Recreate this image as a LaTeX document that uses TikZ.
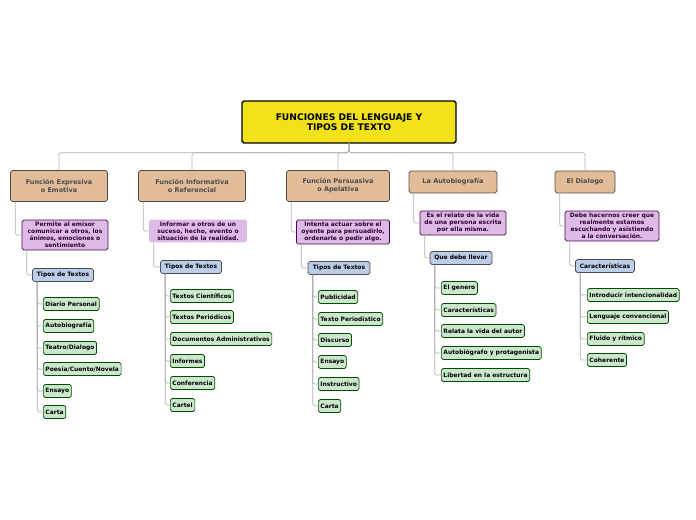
\documentclass[tikz,border=0pt]{standalone}
\usepackage{fontspec}
\setmainfont{DejaVu Sans}
\usetikzlibrary{positioning,calc}
\definecolor{rootyel}{HTML}{F2E21A}
\definecolor{funtan}{HTML}{E2BC98}
\definecolor{descvio}{HTML}{DCBCE6}
\definecolor{tipblue}{HTML}{BCCDE8}
\definecolor{itemgreen}{HTML}{CCE8CC}
\tikzset{
  box/.style={rectangle,rounded corners=1pt,inner sep=1.2pt,align=center,
    font=\fontsize{3.4}{4}\selectfont\bfseries},
  root/.style={box,draw=black,thick,fill=rootyel,minimum width=4.28cm,minimum height=0.84cm,
    font=\fontsize{5.2}{6}\selectfont\bfseries},
  fun/.style={box,draw=black!70,fill=funtan,minimum height=0.44cm,text=black!70,
    font=\fontsize{3.7}{4.6}\selectfont\bfseries},
  desc/.style={box,draw=violet!60!black,fill=descvio,text=violet!40!black},
  tipo/.style={box,draw=black!70,fill=tipblue,minimum height=0.26cm},
  item/.style={box,draw=green!30!black,fill=itemgreen,minimum height=0.26cm,anchor=west},
  link/.style={draw=black!30,line width=0.4pt,rounded corners=1pt}
}
\begin{document}
\begin{tikzpicture}[x=0.02cm,y=-0.02cm]
  \useasboundingbox (0,0) rectangle (696,520);

  \node[root] (root) at (349,122) {FUNCIONES DEL LENGUAJE Y\\TIPOS DE TEXTO};

  % first level
  \node[fun,minimum width=1.94cm,minimum height=0.62cm] (fexp) at (59,186) {Función Expresiva\\o Emotiva};
  \node[fun,minimum width=2.14cm,minimum height=0.62cm] (finf) at (192,186) {Función Informativa\\o Referencial};
  \node[fun,minimum width=2.06cm,minimum height=0.62cm] (fper) at (338,186) {Función Persuasiva\\o Apelativa};
  \node[fun,minimum width=1.76cm] (faut) at (453,182) {La Autobiografía};
  \node[fun,minimum width=1.2cm] (fdia) at (585,182) {El Dialogo};

  \foreach \f in {fexp,finf,fper,faut,fdia}
    \draw[link] (root.south) -- ++(0,9) -| (\f.north);

  % descriptions
  \node[desc,minimum width=1.72cm] (dexp) at (65,235) {Permite al emisor\\comunicar a otros, los\\ánimos, emociones o\\sentimiento};
  \node[desc,draw=none,minimum width=1.96cm] (dinf) at (198,231) {Informar a otros de un\\suceso, hecho, evento o\\situación de la realidad.};
  \node[desc,minimum width=1.86cm] (dper) at (343,232) {Intenta actuar sobre el\\oyente para persuadirlo,\\ordenarle o pedir algo.};
  \node[desc,minimum width=1.72cm] (daut) at (463,223) {Es el relato de la vida\\de una persona escrita\\por ella misma.};
  \node[desc,minimum width=1.88cm] (ddia) at (612,226) {Debe hacernos creer que\\realmente estamos\\escuchando y asistiendo\\a la conversación.};

  % groups
  \node[tipo,minimum width=1.22cm] (texp) at (63,275) {Tipos de Textos};
  \node[tipo,minimum width=1.22cm] (tinf) at (191,267) {Tipos de Textos};
  \node[tipo,minimum width=1.24cm] (tper) at (339,268) {Tipos de Textos};
  \node[tipo,minimum width=1.24cm] (taut) at (461,258) {Que debe llevar};
  \node[tipo,minimum width=1.18cm] (tdia) at (605,266) {Características};

  \foreach \k in {exp,inf,per,aut,dia}{
    \draw[link] ([xshift=0.1cm]f\k.south west) |- (d\k.west);
    \draw[link] ([xshift=0.1cm]d\k.south west) |- (t\k.west);
  }

  % leaves
  \foreach \t [count=\i] in {Diario Personal,Autobiografía,Teatro/Dialogo,Poesía/Cuento/Novela,Ensayo,Carta}{
    \pgfmathsetmacro\yy{{304,326,348,369,391,412}[\i-1]}
    \node[item] (iexp\i) at (43,\yy) {\t};
    \draw[link] ([xshift=0.1cm]texp.south west) |- (iexp\i.west);
  }
  \foreach \t [count=\i] in {Textos Científicos,Textos Periódicos,Documentos Administrativos,Informes,Conferencia,Cartel}{
    \pgfmathsetmacro\yy{{296,317,339,361,383,405}[\i-1]}
    \node[item] (iinf\i) at (170,\yy) {\t};
    \draw[link] ([xshift=0.1cm]tinf.south west) |- (iinf\i.west);
  }
  \foreach \t [count=\i] in {Publicidad,Texto Periodístico,Discurso,Ensayo,Instructivo,Carta}{
    \pgfmathsetmacro\yy{{297,319,340,362,384,406}[\i-1]}
    \node[item] (iper\i) at (318,\yy) {\t};
    \draw[link] ([xshift=0.1cm]tper.south west) |- (iper\i.west);
  }
  \foreach \t [count=\i] in {El genero,Características,Relata la vida del autor,Autobiógrafo y protagonista,Libertad en la estructura}{
    \pgfmathsetmacro\yy{{288,310,331,353,375}[\i-1]}
    \node[item] (iaut\i) at (441,\yy) {\t};
    \draw[link] ([xshift=0.1cm]taut.south west) |- (iaut\i.west);
  }
  \foreach \t [count=\i] in {Introducir intencionalidad,Lenguaje convencional,Fluido y rítmico,Coherente}{
    \pgfmathsetmacro\yy{{295,317,339,360}[\i-1]}
    \node[item] (idia\i) at (587,\yy) {\t};
    \draw[link] ([xshift=0.1cm]tdia.south west) |- (idia\i.west);
  }
\end{tikzpicture}
\end{document}
